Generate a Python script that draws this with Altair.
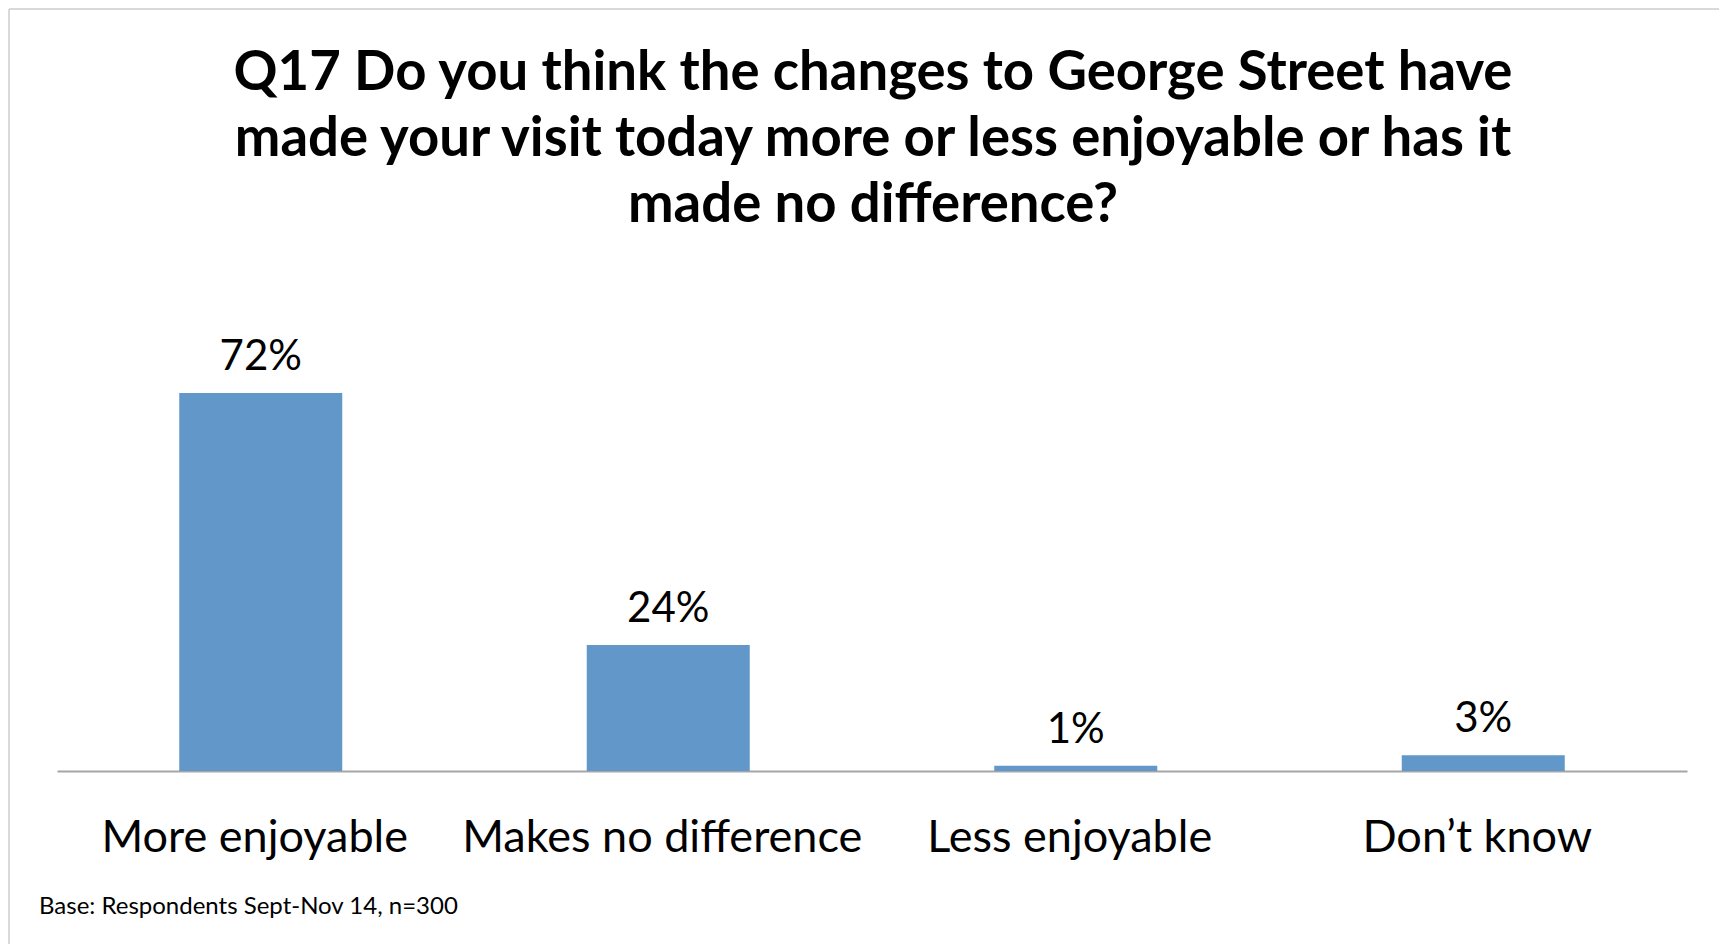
import altair as alt
import pandas as pd

categories = ["More enjoyable", "Makes no difference", "Less enjoyable", "Don’t know"]
values = [72, 24, 1, 3]
labels = ["72%", "24%", "1%", "3%"]
title_lines = [
    "Q17 Do you think the changes to George Street have",
    "made your visit today more or less enjoyable or has it",
    "made no difference?",
]
footnote = "Base: Respondents Sept-Nov 14, n=300"

df = pd.DataFrame({"category": categories, "value": values, "label": labels})

W, H = 1630, 420
PAD_L, PAD_T = 49, 343
PAD_R = 1711 - PAD_L - W
PAD_B = 936 - PAD_T - H

x = alt.X(
    "category:N",
    sort=categories,
    scale=alt.Scale(paddingInner=0.6, paddingOuter=0.3),
    axis=alt.Axis(
        title=None, labelAngle=0, ticks=False, grid=False,
        domainColor="#A6A6A6", domainWidth=2,
        labelFont="Lato", labelFontSize=45, labelColor="#000000",
        labelPadding=44, labelLimit=0, labelOffset=-6,
    ),
)
y = alt.Y("value:Q", scale=alt.Scale(domain=[0, 80]), axis=None)

bars = alt.Chart(df).mark_bar(color="#6297C9").encode(x=x, y=y)
vals = alt.Chart(df).mark_text(
    font="Lato", fontSize=42, baseline="alphabetic", dy=-23, color="#000000"
).encode(x=x, y=y, text="label:N")

one = pd.DataFrame({"k": [0]})
title = alt.Chart(one).mark_text(
    font="Lato", fontSize=54.5, fontWeight="bold", baseline="alphabetic",
    align="center", lineHeight=66, color="#000000",
).encode(x=alt.value(W / 2 + 1), y=alt.value(-261), text=alt.value(title_lines))

foot = alt.Chart(one).mark_text(
    font="Lato", fontSize=24, baseline="alphabetic", align="left", color="#000000",
).encode(x=alt.value(-18), y=alt.value(563), text=alt.value(footnote))

border_top = alt.Chart(one).mark_rule(color="#D9D9D9", strokeWidth=2).encode(
    x=alt.value(-PAD_L + 1), x2=alt.value(W + PAD_R), y=alt.value(-PAD_T + 1)
)
border_left = alt.Chart(one).mark_rule(color="#D9D9D9", strokeWidth=2).encode(
    x=alt.value(-PAD_L + 1), y=alt.value(-PAD_T + 1), y2=alt.value(H + PAD_B)
)

chart = alt.layer(border_top, border_left, bars, vals, title, foot).properties(
    width=W, height=H,
    autosize=alt.AutoSizeParams(type="none"),
    padding={"left": PAD_L, "top": PAD_T, "right": PAD_R, "bottom": PAD_B},
    background="white",
).configure_view(stroke=None)

chart.save("out.html", embed_options={"renderer": "svg", "actions": False})
